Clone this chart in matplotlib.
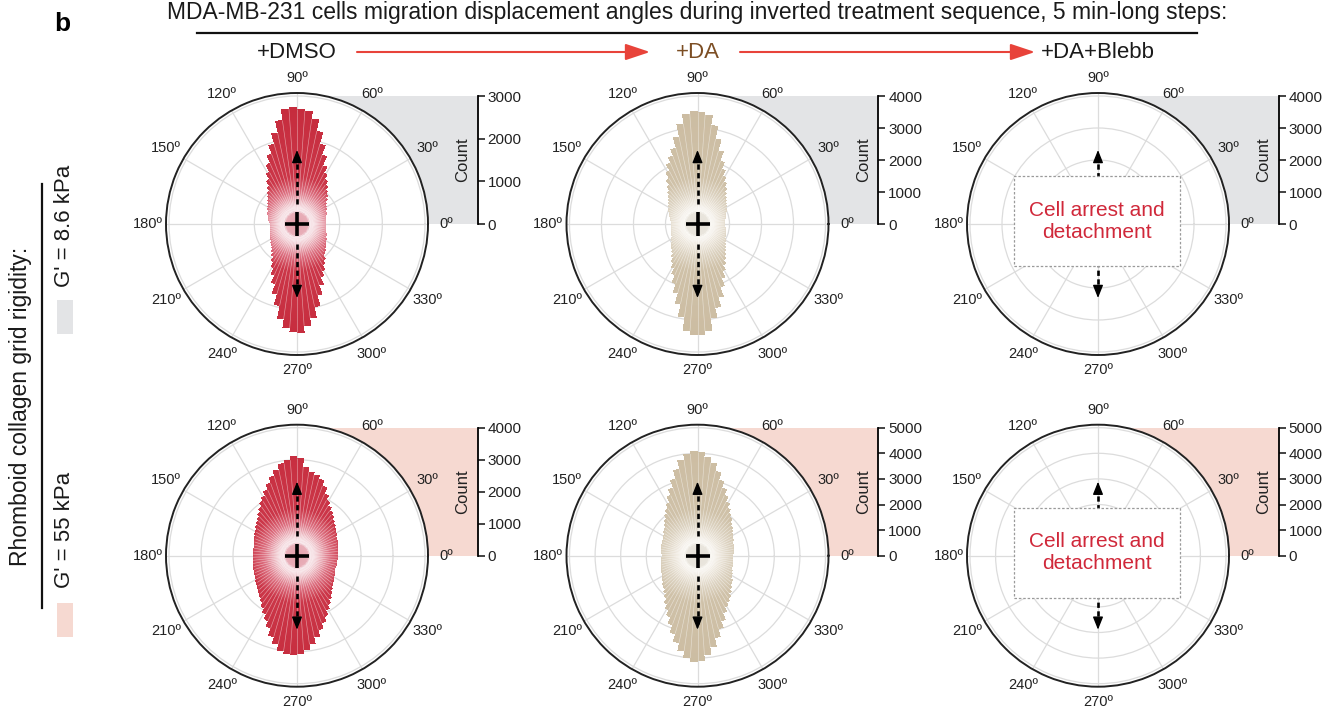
import numpy as np
import matplotlib
matplotlib.use("Agg")
import matplotlib.pyplot as plt
from matplotlib.colors import LinearSegmentedColormap
from matplotlib.patches import Rectangle, FancyArrowPatch
from matplotlib.lines import Line2D

plt.rcParams['font.family'] = ['Liberation Sans', 'DejaVu Sans']

# ---------------------------------------------------------------- data
# Angular histogram bins (bin centres, degrees, 4-degree bins)
bin_deg = np.arange(0, 360, 4)

# Counts per bin, G' = 8.6 kPa, +DMSO
counts_soft_dmso = [
    680, 690, 685, 700, 710, 725, 745, 770, 800, 850,
    915, 975, 1050, 1130, 1230, 1340, 1500, 1720, 1960, 2230,
    2480, 2650, 2700, 2740, 2700, 2450, 2180, 1960, 1750, 1550,
    1370, 1230, 1110, 1020, 950, 890, 840, 800, 770, 745,
    725, 710, 695, 680, 660, 630, 640, 640, 650, 660,
    670, 685, 700, 720, 750, 780, 820, 870, 940, 1040,
    1170, 1320, 1500, 1720, 1960, 2250, 2450, 2540, 2550, 2390,
    2230, 1980, 1740, 1530, 1360, 1240, 1130, 1040, 960, 905,
    865, 830, 795, 770, 745, 725, 710, 695, 690, 685]

# Counts per bin, G' = 8.6 kPa, +DA
counts_soft_da = [
    845, 850, 870, 885, 915, 950, 985, 1025, 1070, 1110,
    1160, 1230, 1310, 1420, 1550, 1700, 1870, 2100, 2380, 2720,
    3110, 3420, 3510, 3520, 3460, 3170, 2790, 2470, 2260, 2100,
    1875, 1680, 1500, 1360, 1260, 1180, 1120, 1070, 1025, 985,
    950, 910, 870, 845, 825, 815, 815, 820, 830, 845,
    865, 890, 920, 960, 1005, 1060, 1120, 1190, 1290, 1420,
    1570, 1750, 1980, 2250, 2560, 2945, 3340, 3470, 3480, 3360,
    2980, 2680, 2380, 2100, 1860, 1655, 1520, 1400, 1300, 1210,
    1140, 1080, 1030, 995, 960, 930, 910, 895, 885, 860]

# Counts per bin, G' = 55 kPa, +DMSO
counts_stiff_dmso = [
    1280, 1290, 1280, 1295, 1315, 1335, 1360, 1390, 1420, 1470,
    1525, 1590, 1660, 1740, 1840, 1960, 2110, 2320, 2480, 2580,
    2650, 2780, 3050, 3120, 2990, 2910, 2740, 2580, 2410, 2250,
    2125, 2000, 1880, 1780, 1700, 1625, 1570, 1515, 1475, 1440,
    1410, 1395, 1380, 1375, 1370, 1375, 1380, 1390, 1395, 1405,
    1415, 1440, 1465, 1495, 1540, 1585, 1650, 1725, 1820, 1930,
    2060, 2220, 2420, 2630, 2830, 3015, 3070, 3100, 3060, 2950,
    2800, 2610, 2420, 2230, 2080, 1920, 1800, 1690, 1590, 1500,
    1435, 1385, 1340, 1310, 1280, 1260, 1255, 1265, 1270, 1275]

# Counts per bin, G' = 55 kPa, +DA
counts_stiff_da = [
    1405, 1415, 1425, 1440, 1455, 1480, 1520, 1565, 1610, 1670,
    1745, 1840, 1945, 2060, 2200, 2370, 2570, 2800, 3070, 3380,
    3675, 3860, 4050, 4080, 3980, 3765, 3450, 3120, 2830, 2570,
    2340, 2170, 2010, 1870, 1765, 1675, 1610, 1550, 1510, 1475,
    1450, 1445, 1450, 1440, 1420, 1405, 1410, 1425, 1440, 1460,
    1490, 1520, 1560, 1610, 1670, 1745, 1830, 1930, 2060, 2220,
    2395, 2600, 2860, 3160, 3470, 3760, 4000, 4150, 4120, 3890,
    3610, 3280, 2970, 2700, 2460, 2280, 2150, 2040, 1930, 1820,
    1720, 1645, 1580, 1525, 1480, 1440, 1425, 1415, 1410, 1405]

# Radial (count) axis limits per panel
count_max_soft = [3000, 4000, 4000]
count_max_stiff = [4000, 5000, 5000]
count_step = 1000

angle_ticks = np.arange(0, 360, 30)
angle_labels = [f"{a}º" for a in angle_ticks]

treatments = ["+DMSO", "+DA", "+DA+Blebb"]
title = ("MDA-MB-231 cells migration displacement angles during inverted "
         "treatment sequence, 5 min-long steps:")
arrest_text = "Cell arrest and\ndetachment"

# ---------------------------------------------------------------- style
W, H, DPI = 1330, 708, 100
RED = "#C52A3B"
BEIGE = "#CBBBA0"
ARROW_RED = "#E8433A"
DA_BROWN = "#7C4E24"
TEXT_RED = "#D0283A"
SHADE_SOFT = "#E3E4E6"
SHADE_STIFF = "#F6D9D1"
GRID = "#DCDCDC"

red_cmap = LinearSegmentedColormap.from_list("red_rose", [
    (0.00, "#E4A1AC"), (0.085, "#E8AEB8"), (0.105, "#F8EAED"),
    (0.16, "#F0C6CD"), (0.26, "#DC6E7F"), (0.37, "#CB3648"),
    (1.00, RED)])
beige_cmap = LinearSegmentedColormap.from_list("beige_rose", [
    (0.00, "#E6E1D8"), (0.085, "#E9E5DD"), (0.105, "#FAF8F4"),
    (0.16, "#EFE9DF"), (0.26, "#DCD2C0"), (0.37, "#CFC1A8"),
    (1.00, BEIGE)])

fig = plt.figure(figsize=(W / DPI, H / DPI), dpi=DPI)


def px_box(x0, y0, x1, y1):
    """Figure-fraction rectangle from pixel edges (origin top-left)."""
    return [x0 / W, 1 - y1 / H, (x1 - x0) / W, (y1 - y0) / H]


R_SPINE = 131   # outer circle radius, px
R_FULL = 128    # radius of the top count gridline, px
AXIS_OFF = 181  # horizontal offset of the count axis from the centre, px


def count_axis(cx, cy, rmax, shade):
    sax = fig.add_axes(px_box(cx, cy - R_FULL, cx + AXIS_OFF, cy))
    sax.set_facecolor(shade)
    sax.set_xlim(0, 1)
    sax.set_ylim(0, rmax)
    for s in ("left", "top", "bottom"):
        sax.spines[s].set_visible(False)
    sax.spines["right"].set_linewidth(1.3)
    sax.yaxis.tick_right()
    sax.set_yticks(np.arange(0, rmax + 1, count_step))
    sax.tick_params(axis="y", direction="out", length=5, width=1.2,
                    labelsize=11, pad=2, colors="#222222")
    sax.set_xticks([])
    sax.text(1 - 15 / AXIS_OFF, 0.5, "Count", rotation=90,
             transform=sax.transAxes, ha="center", va="center",
             fontsize=12, color="#222222")


def polar_axis(cx, cy, rmax):
    ax = fig.add_axes(px_box(cx - R_SPINE, cy - R_SPINE, cx + R_SPINE,
                             cy + R_SPINE), projection="polar")
    ax.set_facecolor("white")
    ax.set_ylim(0, rmax * R_SPINE / R_FULL)
    ax.set_thetagrids(angle_ticks, labels=[""] * len(angle_ticks))
    rt = np.arange(count_step, rmax + 1, count_step)
    ax.set_rgrids(rt, labels=[""] * len(rt))
    ax.grid(color=GRID, lw=0.9)
    ax.spines["polar"].set_linewidth(1.4)
    ax.spines["polar"].set_color("#222222")
    ax.tick_params(axis="x", direction="out", length=5, width=1.1,
                   colors="#222222")
    ax.tick_params(axis="y", length=0)
    ax.set_axisbelow(True)
    # angle labels, kept at a steady gap outside the rim
    s = rmax / R_FULL
    for a, lab in zip(angle_ticks, angle_labels):
        t = np.deg2rad(a)
        r_px = 140.5 + 9 * abs(np.cos(t)) + 5.5 * abs(np.sin(t))
        ax.text(t, r_px * s, lab, ha="center", va="center", fontsize=10.5,
                color="#222222", clip_on=False)
    return ax


def rose(ax, counts, rmax, cmap):
    counts = np.asarray(counts, dtype=float)
    th_edges = np.deg2rad(np.append(bin_deg - 2, bin_deg[-1] + 2))
    r_edges = np.linspace(0, rmax, 401)
    r_mid = 0.5 * (r_edges[:-1] + r_edges[1:])
    C = np.tile(r_mid[:, None] / rmax, (1, len(counts)))
    C = np.ma.array(C, mask=r_mid[:, None] > counts[None, :])
    ax.pcolormesh(th_edges, r_edges, C, cmap=cmap, vmin=0, vmax=1,
                  shading="flat", rasterized=True, zorder=2)
    # thin separators between neighbouring bars
    lo = 0.12 * rmax
    hi = np.minimum(counts, np.roll(counts, 1))
    ax.vlines(th_edges[:-1], lo, hi, colors="white", lw=0.45,
              alpha=0.5, zorder=2.5)


def mean_arrows(ax, rmax, r_start_px=20, r_tip_px=74):
    s = rmax / R_FULL
    for th in (np.pi / 2, 3 * np.pi / 2):
        ax.plot([th, th], [r_start_px * s, (r_tip_px - 6) * s],
                color="black", lw=1.9, ls=(0, (2.0, 1.3)), zorder=4,
                solid_capstyle="butt", dash_capstyle="butt")
        ax.annotate("", xy=(th, r_tip_px * s), xytext=(th, (r_tip_px - 7) * s),
                    arrowprops=dict(arrowstyle="-|>,head_length=0.55,head_width=0.22",
                                    color="black", lw=1.0, shrinkA=0,
                                    shrinkB=0, mutation_scale=14),
                    zorder=4)


def centre_mark(ax):
    ax.plot([0], [0], marker="+", ms=17, mew=2.6, color="black",
            zorder=5, clip_on=False)


centres_x = [297, 697.5, 1098]
centres_y = [224, 555.7]
rows = [
    (centres_y[0], count_max_soft, SHADE_SOFT,
     [counts_soft_dmso, counts_soft_da, None]),
    (centres_y[1], count_max_stiff, SHADE_STIFF,
     [counts_stiff_dmso, counts_stiff_da, None]),
]
cmaps = [red_cmap, beige_cmap, None]

for cy, maxes, shade, data in rows:
    for j, cx in enumerate(centres_x):
        rmax = maxes[j]
        count_axis(cx, cy, rmax, shade)
        ax = polar_axis(cx, cy, rmax)
        mean_arrows(ax, rmax)
        if data[j] is not None:
            rose(ax, data[j], rmax, cmaps[j])
            centre_mark(ax)
        else:
            # boxed note over the empty rose
            bx0, bx1 = cx - 84, cx + 82
            by0, by1 = cy - 48, cy + 42
            fig.add_artist(Rectangle((bx0 / W, 1 - by1 / H),
                                     (bx1 - bx0) / W, (by1 - by0) / H,
                                     transform=fig.transFigure,
                                     facecolor="white", edgecolor="#9A9A9A",
                                     lw=0.9, ls=(0, (2, 1.5)), zorder=3))
            fig.text((bx0 + bx1) / 2 / W, 1 - (by0 + by1) / 2 / H,
                     arrest_text, ha="center", va="center",
                     color=TEXT_RED, fontsize=15, linespacing=1.2,
                     zorder=4)

# ---------------------------------------------------------------- header
fig.text(697 / W, 1 - 13 / H, title, ha="center", va="center",
         fontsize=16.5, color="#1A1A1A")
fig.add_artist(Line2D([197 / W, 1197 / W], [1 - 33 / H] * 2,
                      color="#111111", lw=1.6))
for j, (name, col) in enumerate(zip(treatments, ["#1A1A1A", DA_BROWN, "#1A1A1A"])):
    fig.text(centres_x[j] / W, 1 - 52 / H, name, ha="center", va="center",
             fontsize=16, color=col)
for x0, x1 in ((357, 650), (740, 1035)):
    fig.add_artist(FancyArrowPatch(
        (x0 / W, 1 - 52 / H), (x1 / W, 1 - 52 / H),
        transform=fig.transFigure, color=ARROW_RED, lw=1.5,
        arrowstyle="-|>,head_length=15,head_width=5", mutation_scale=1,
        shrinkA=0, shrinkB=0))

fig.text(62 / W, 1 - 24 / H, "b", ha="center", va="center",
         fontsize=19, fontweight="bold")

# ---------------------------------------------------------------- side legend
fig.text(21 / W, 1 - 406 / H, "Rhomboid collagen grid rigidity:",
         rotation=90, ha="center", va="center", fontsize=16.5,
         color="#1A1A1A")
fig.add_artist(Line2D([42 / W, 42 / W], [1 - 184 / H, 1 - 608 / H],
                      color="#111111", lw=1.6))
fig.text(65 / W, 1 - 226 / H, "G' = 8.6 kPa", rotation=90, ha="center",
         va="center", fontsize=16, color="#1A1A1A")
fig.text(65 / W, 1 - 530 / H, "G' = 55 kPa", rotation=90, ha="center",
         va="center", fontsize=16, color="#1A1A1A")
fig.add_artist(Rectangle((57 / W, 1 - 334 / H), 16 / W, 34 / H,
                         transform=fig.transFigure, facecolor=SHADE_SOFT,
                         edgecolor="none"))
fig.add_artist(Rectangle((57 / W, 1 - 637 / H), 16 / W, 34 / H,
                         transform=fig.transFigure, facecolor=SHADE_STIFF,
                         edgecolor="none"))

fig.savefig("out.png", dpi=DPI)
